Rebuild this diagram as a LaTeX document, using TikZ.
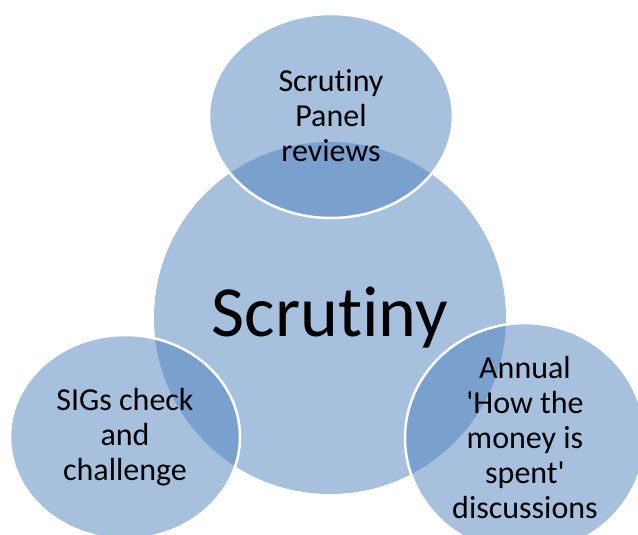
\documentclass[tikz,border=0pt]{standalone}
\usepackage{fontspec}
\setmainfont{Carlito}[Ligatures={TeXOff,NoCommon}]
\usetikzlibrary{shapes.geometric}
\definecolor{bubbleFill}{HTML}{4F81BD}

\begin{document}
\begin{tikzpicture}[
    x=1pt, y=-1pt,
    hub/.style={
        circle, fill=bubbleFill, fill opacity=0.5, text opacity=1,
        minimum size=352pt, inner sep=0pt,
        font=\fontsize{72}{80}\selectfont
    },
    bubble/.style={
        ellipse, fill=bubbleFill, fill opacity=0.5, text opacity=1,
        draw=white, draw opacity=1, line width=2.5pt,
        minimum width=236pt, minimum height=204pt, inner sep=0pt,
        align=center, font=\fontsize{32}{35}\selectfont
    }
]
  \useasboundingbox (0,0) rectangle (638,535);

  % Centre
  \node[hub] (hub) at (330,318) {Scrutiny};

  % Satellites laid over the centre
  \node[bubble, minimum width=244pt] (panel) at (331,116) {Scrutiny\\Panel\\reviews};

  \node[bubble, minimum width=230pt] (sigs) at (125,437) {SIGs check\\and\\challenge};

  \node[bubble, minimum width=240pt] (annual) at (525,438) {Annual\\'How the\\money is\\spent'\\discussions};

\end{tikzpicture}
\end{document}
